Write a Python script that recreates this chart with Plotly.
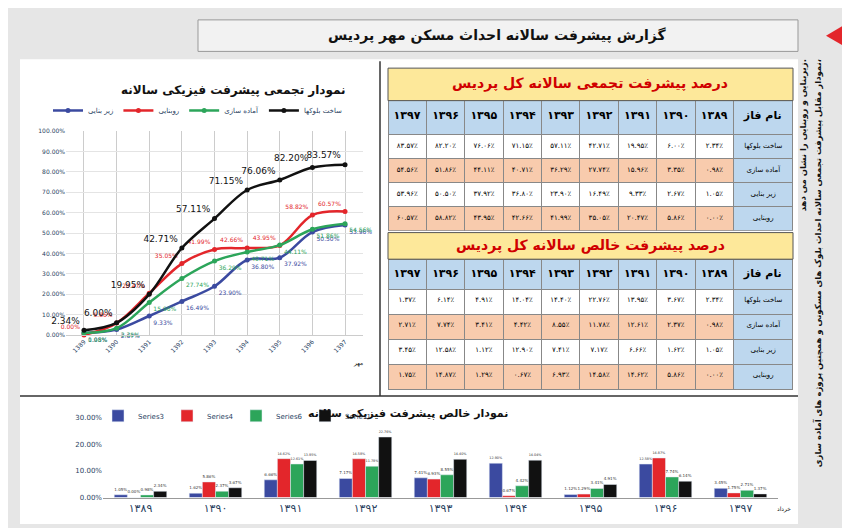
import plotly.graph_objects as go

years = [1389, 1390, 1391, 1392, 1393, 1394, 1395, 1396, 1397]
phases = ["ساخت بلوکها", "آماده سازی", "زیر بنایی", "روبنایی"]

cum_block = [2.34, 6.00, 19.95, 42.71, 57.11, 71.15, 76.06, 82.20, 83.57]
cum_amade = [0.98, 3.35, 15.96, 27.74, 36.29, 40.71, 44.11, 51.86, 54.56]
cum_zir = [1.05, 2.67, 9.33, 16.49, 23.90, 36.80, 37.92, 50.50, 53.96]
cum_roo = [0.00, 5.86, 20.47, 35.05, 41.99, 42.66, 43.95, 58.82, 60.57]

net_block = [2.34, 3.67, 13.95, 22.76, 14.40, 14.04, 4.91, 6.14, 1.37]
net_amade = [0.98, 2.37, 12.61, 11.78, 8.55, 4.42, 3.41, 7.74, 2.71]
net_zir = [1.05, 1.62, 6.66, 7.17, 7.41, 12.90, 1.12, 12.58, 3.45]
net_roo = [0.00, 5.86, 14.62, 14.58, 6.93, 0.67, 1.29, 14.87, 1.75]

BLUE, RED, GREEN, BLACK = "#3b4aa0", "#e3262b", "#2ca55a", "#111111"
W, H = 850, 528
FONT = "DejaVu Sans"

def fa(s):
    return str(s).translate(str.maketrans("0123456789", "۰۱۲۳۴۵۶۷۸۹"))

def pct(v):
    return fa(f"{v:.2f}") + "٪"

def px(x0, x1):
    return [x0 / W, x1 / W]

def py(y0, y1):
    return [1 - y1 / H, 1 - y0 / H]

fig = go.Figure()

# ---- line chart (cumulative) ----
for name, vals, col, pos in [
    ("زیر بنایی", cum_zir, BLUE, "bottom right"),
    ("روبنایی", cum_roo, RED, "top left"),
    ("آماده سازی", cum_amade, GREEN, "bottom right"),
    ("ساخت بلوکها", cum_block, BLACK, "top left"),
]:
    big = col == BLACK
    fig.add_trace(go.Scatter(
        x=[str(y) for y in years], y=[v / 100 for v in vals], name=name,
        mode="lines+markers+text", line=dict(color=col, width=2.5, shape="spline"),
        marker=dict(size=5, color=col), text=[f"{v:.2f}%" for v in vals],
        textposition=pos, textfont=dict(size=9 if big else 6, color=col, family=FONT),
        cliponaxis=False, xaxis="x", yaxis="y", legend="legend"))

# ---- bar chart (net) ----
for name, vals, col in [("Series3", net_zir, BLUE), ("Series4", net_roo, RED),
                        ("Series6", net_amade, GREEN), ("Series1", net_block, BLACK)]:
    fig.add_trace(go.Bar(
        x=[fa(y) for y in years], y=[v / 100 for v in vals], name=name, marker_color=col,
        text=[f"{v:.2f}%" for v in vals], textposition="outside",
        textfont=dict(size=7, color="#333"), cliponaxis=False,
        xaxis="x2", yaxis="y2", legend="legend2"))

# ---- tables ----
def table(data, y0, y1, hh, ch):
    cols = [[pct(v) for v in row] for row in zip(*data)][::-1]
    vals = cols + [phases]
    hdr = ["<b>" + fa(y) + "</b>" for y in years][::-1] + ["<b>نام فاز</b>"]
    rowfill = ["white", "#f8cbad", "white", "#f8cbad"]
    fills = [rowfill] * 9 + [["#bdd7ee"] * 4]
    fig.add_trace(go.Table(
        domain=dict(x=px(380, 785), y=py(y0, y1)),
        columnwidth=[1] * 9 + [1.55],
        header=dict(values=hdr, fill_color="#bdd7ee", line_color="#888",
                    font=dict(size=11, color="#000", family=FONT), height=hh, align="center"),
        cells=dict(values=vals, fill_color=fills, line_color="#888",
                   font=dict(size=7, color="#000", family=FONT), height=ch, align="center")))

table([cum_block, cum_amade, cum_zir, cum_roo], 90, 222, 34, 24)
table([net_block, net_amade, net_zir, net_roo], 251, 385, 30, 25)

shapes = [
    dict(type="rect", xref="paper", yref="paper", x0=12/W, x1=790/W, y0=1-520/H, y1=1-48/H, fillcolor="white", line_width=0, layer="below"),
    dict(type="rect", xref="paper", yref="paper", x0=190/W, x1=790/W, y0=1-40/H, y1=1-8/H, fillcolor="#f2f2f2", line=dict(color="#999", width=1), layer="below"),
    dict(type="line", xref="paper", yref="paper", x0=372/W, x1=372/W, y0=1-390/H, y1=1-50/H, line=dict(color="#333", width=1.5)),
    dict(type="line", xref="paper", yref="paper", x0=12/W, x1=790/W, y0=1-390/H, y1=1-390/H, line=dict(color="#333", width=1.5)),
    dict(type="rect", xref="paper", yref="paper", x0=380/W, x1=785/W, y0=1-90/H, y1=1-57/H, fillcolor="#fde89a", line=dict(color="#555", width=1)),
    dict(type="rect", xref="paper", yref="paper", x0=380/W, x1=785/W, y0=1-251/H, y1=1-224/H, fillcolor="#fde89a", line=dict(color="#555", width=1)),
    dict(type="path", xref="paper", yref="paper", path=f"M {845/W} {1-8/H} L {845/W} {1-40/H} L {818/W} {1-24/H} Z", fillcolor="#e3262b", line_width=0),
]

ann = [
    dict(text="<b>گزارش پیشرفت سالانه احداث مسکن مهر پردیس</b>", x=490/W, y=1-24/H, font=dict(size=14)),
    dict(text="<b>نمودار تجمعی پیشرفت فیزیکی سالانه</b>", x=225/W, y=1-80/H, font=dict(size=12)),
    dict(text="<b>درصد پیشرفت تجمعی سالانه کل پردیس</b>", x=582/W, y=1-73/H, font=dict(size=14, color="#d00000")),
    dict(text="<b>درصد پیشرفت خالص سالانه کل پردیس</b>", x=582/W, y=1-237/H, font=dict(size=14, color="#d00000")),
    dict(text="<b>نمودار خالص پیشرفت فیزیکی سالانه</b>", x=400/W, y=1-408/H, font=dict(size=11)),
    dict(text="مهر", x=350/W, y=1-356/H, font=dict(size=6)),
    dict(text="خرداد", x=776/W, y=1-505/H, font=dict(size=6)),
]
for a in ann:
    a.update(xanchor="center", yanchor="middle")
ann += [
    dict(text="<b>نمودار مقابل پیشرفت تجمعی سالانه احداث بلوک های مسکونی و همچنین پروژه های آماده سازی،</b>",
         x=810/W, y=1-46/H, textangle=-90, xanchor="center", yanchor="top", font=dict(size=8.5)),
    dict(text="<b>زیربنایی و روبنایی را نشان می دهد.</b>",
         x=795/W, y=1-46/H, textangle=-90, xanchor="center", yanchor="top", font=dict(size=8.5)),
]
for a in ann:
    a.update(xref="paper", yref="paper", showarrow=False)
    a["font"].setdefault("family", FONT)
    a["font"].setdefault("color", "#111")

fig.update_layout(
    width=W, height=H, margin=dict(l=0, r=0, t=0, b=0), paper_bgcolor="#e6e6e6",
    plot_bgcolor="white", showlegend=True, font=dict(family=FONT),
    shapes=shapes, annotations=ann, barmode="group", bargap=0.3, bargroupgap=0,
    xaxis=dict(domain=px(58, 355), anchor="y", tickangle=-45, tickfont=dict(size=6),
               showgrid=True, gridcolor="#ccc", showline=True, linecolor="#ccc"),
    yaxis=dict(domain=py(121, 328), anchor="x", range=[0, 1.0], dtick=0.1, tickformat=".2%",
               tickfont=dict(size=6), gridcolor="#e4e4e4", zeroline=False),
    xaxis2=dict(domain=px(95, 770), anchor="y2", tickfont=dict(size=11), showgrid=False,
                showline=True, linecolor="#999"),
    yaxis2=dict(domain=py(412, 493), anchor="x2", range=[0, 0.3], dtick=0.1, tickformat=".2%",
                tickfont=dict(size=7), showgrid=False, zeroline=False),
    legend=dict(orientation="h", x=40/W, y=1-100/H, xanchor="left", yanchor="middle",
                font=dict(size=7), bgcolor="rgba(0,0,0,0)", traceorder="normal"),
    legend2=dict(orientation="h", x=90/W, y=1-410/H, xanchor="left", yanchor="middle",
                 font=dict(size=7), bgcolor="rgba(0,0,0,0)", entrywidth=24,
                 entrywidthmode="pixels", itemwidth=30),
)

fig.write_html("out.html")
